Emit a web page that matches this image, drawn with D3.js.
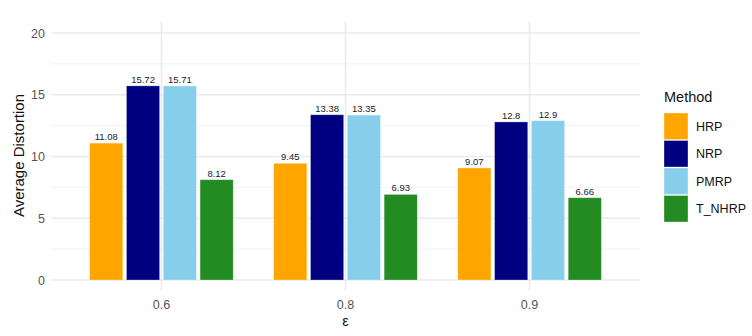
<!DOCTYPE html>
<html>
<head>
<meta charset="utf-8">
<script src="https://cdn.jsdelivr.net/npm/d3@7"></script>
<style>
  html, body { margin: 0; padding: 0; background: #fff; }
  svg { display: block; font-family: "Liberation Sans", Arial, sans-serif; }
</style>
</head>
<body>
<svg id="chart" width="752" height="336"></svg>
<script>
// Privacy-level groups and method values
const epsilons = ["0.6", "0.8", "0.9"];
const methods = ["HRP", "NRP", "PMRP", "T_NHRP"];
const hrp   = [11.08, 9.45, 9.07];
const nrp   = [15.72, 13.38, 12.8];
const pmrp  = [15.71, 13.35, 12.9];
const tnhrp = [8.12, 6.93, 6.66];
const yTicks = [0, 5, 10, 15, 20];
const colors = ["#FFA500", "#000080", "#87CEEB", "#228B22"];

const series = [hrp, nrp, pmrp, tnhrp];
const rows = [];
epsilons.forEach((e, i) => {
  methods.forEach((m, j) => rows.push({ eps: e, method: m, value: series[j][i] }));
});

const svg = d3.select("#chart");
const panel = { left: 51, right: 640, top: 21, bottom: 291 };

// Discrete axis: centres spaced evenly with 0.6 unit expansion on each side
const x = d3.scalePoint()
  .domain(epsilons)
  .range([panel.left, panel.right])
  .padding(0.6);
const xc = e => x(e);
const dodgeW = x.step() * 0.78;
const xInner = d3.scaleBand().domain(methods).range([-dodgeW / 2, dodgeW / 2]).paddingInner(0.1);

const y = d3.scaleLinear().domain([0, 20]).range([280, 33]);
const color = d3.scaleOrdinal().domain(methods).range(colors);

// Grid
const grid = svg.append("g");
const minor = d3.range(2.5, 20, 5);
grid.selectAll(".minor").data(minor).join("line")
  .attr("x1", panel.left).attr("x2", panel.right)
  .attr("y1", d => y(d)).attr("y2", d => y(d))
  .attr("stroke", "#f2f2f2").attr("stroke-width", 1);
grid.selectAll(".major").data(yTicks).join("line")
  .attr("x1", panel.left).attr("x2", panel.right)
  .attr("y1", d => y(d)).attr("y2", d => y(d))
  .attr("stroke", "#ebebeb").attr("stroke-width", 1.6);
grid.selectAll(".vmajor").data(epsilons).join("line")
  .attr("x1", d => xc(d)).attr("x2", d => xc(d))
  .attr("y1", panel.top).attr("y2", panel.bottom)
  .attr("stroke", "#ebebeb").attr("stroke-width", 1.6);

// Bars
svg.append("g").selectAll("rect").data(rows).join("rect")
  .attr("x", d => xc(d.eps) + xInner(d.method))
  .attr("width", xInner.bandwidth())
  .attr("y", d => y(d.value))
  .attr("height", d => y(0) - y(d.value))
  .attr("fill", d => color(d.method))
  .attr("stroke", "rgba(255,255,255,0.35)")
  .attr("stroke-width", 0.8);

// Value labels
svg.append("g").selectAll("text").data(rows).join("text")
  .attr("x", d => xc(d.eps) + xInner(d.method) + xInner.bandwidth() / 2)
  .attr("y", d => y(d.value) - 3)
  .attr("text-anchor", "middle")
  .attr("font-size", 9.5)
  .attr("fill", "#222")
  .text(d => String(d.value));

// Y axis labels
svg.append("g").selectAll("text").data(yTicks).join("text")
  .attr("x", 45).attr("y", d => y(d) + 4.5)
  .attr("text-anchor", "end")
  .attr("font-size", 12.5)
  .attr("fill", "#555")
  .text(d => d);

// X axis labels
svg.append("g").selectAll("text").data(epsilons).join("text")
  .attr("x", d => xc(d)).attr("y", 309)
  .attr("text-anchor", "middle")
  .attr("font-size", 12.5)
  .attr("fill", "#555")
  .text(d => d);

// Axis titles
svg.append("text")
  .attr("x", (panel.left + panel.right) / 2).attr("y", 326)
  .attr("text-anchor", "middle").attr("font-size", 14.5).attr("fill", "#111")
  .text("ε");
svg.append("text")
  .attr("transform", `translate(24, ${y(10) - 1}) rotate(-90)`)
  .attr("text-anchor", "middle").attr("font-size", 15).attr("fill", "#111")
  .text("Average Distortion");

// Legend
const legend = svg.append("g").attr("transform", "translate(664, 0)");
legend.append("text")
  .attr("x", 0).attr("y", 102)
  .attr("font-size", 14.5).attr("fill", "#111")
  .text("Method");
const keyH = 27.5, keyTop = 113;
legend.selectAll("rect").data(methods).join("rect")
  .attr("x", 0).attr("y", (d, i) => keyTop + i * keyH)
  .attr("width", 24).attr("height", keyH - 1)
  .attr("fill", d => color(d))
  .attr("stroke", "rgba(255,255,255,0.35)");
legend.selectAll(".lab").data(methods).join("text")
  .attr("x", 32).attr("y", (d, i) => keyTop + i * keyH + keyH / 2 + 4)
  .attr("font-size", 12.5).attr("fill", "#111")
  .text(d => d);
</script>
</body>
</html>
